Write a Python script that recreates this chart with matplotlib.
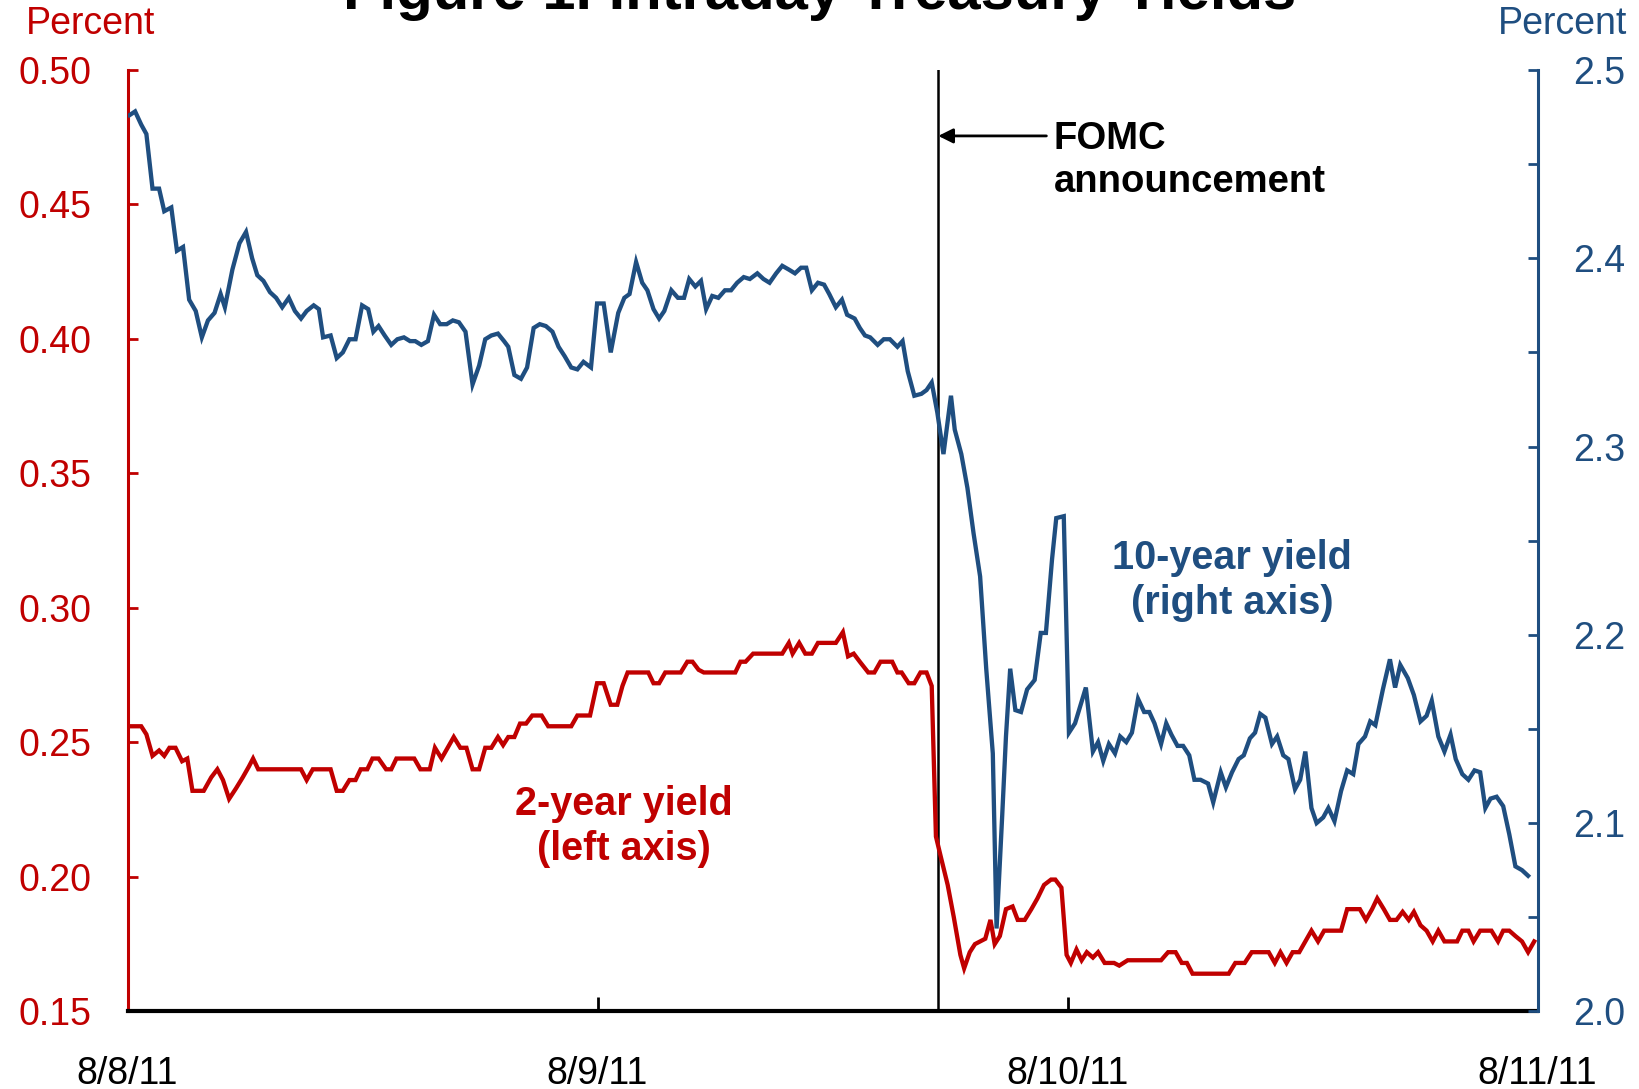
import numpy as np
import matplotlib.pyplot as plt

plt.rcParams['font.family'] = ['Liberation Sans', 'DejaVu Sans']

RED = '#C00000'
BLUE = '#1F4E80'

# --- data (x in days since 8/8/11 open of chart) ---
t_10y = [0.004, 0.016, 0.029, 0.040, 0.053, 0.067, 0.078, 0.093, 0.105, 0.118,
         0.131, 0.145, 0.158, 0.171, 0.185, 0.198, 0.207, 0.223, 0.238, 0.252,
         0.265, 0.276, 0.289, 0.303, 0.316, 0.329, 0.343, 0.356, 0.369, 0.381,
         0.396, 0.407, 0.416, 0.432, 0.445, 0.458, 0.472, 0.485, 0.499, 0.512,
         0.523, 0.534, 0.547, 0.561, 0.574, 0.588, 0.601, 0.612, 0.625, 0.639,
         0.652, 0.665, 0.679, 0.692, 0.705, 0.719, 0.734, 0.748, 0.761, 0.774,
         0.788, 0.801, 0.810, 0.823, 0.837, 0.850, 0.864, 0.877, 0.890, 0.904,
         0.917, 0.930, 0.944, 0.957, 0.970, 0.986, 0.999, 1.013, 1.028, 1.044,
         1.057, 1.068, 1.082, 1.095, 1.106, 1.119, 1.131, 1.142, 1.157, 1.171,
         1.184, 1.195, 1.208, 1.220, 1.231, 1.244, 1.257, 1.271, 1.284, 1.297,
         1.311, 1.324, 1.340, 1.353, 1.366, 1.380, 1.393, 1.407, 1.420, 1.433,
         1.444, 1.456, 1.469, 1.482, 1.493, 1.507, 1.520, 1.531, 1.547, 1.558,
         1.569, 1.580, 1.596, 1.609, 1.622, 1.638, 1.649, 1.660, 1.674, 1.689,
         1.700, 1.711, 1.723, 1.736, 1.752, 1.760, 1.774, 1.787, 1.800, 1.814,
         1.827, 1.841, 1.849, 1.861, 1.869, 1.878, 1.889, 1.901, 1.914, 1.930,
         1.943, 1.954, 1.967, 1.976, 1.992, 2.003, 2.016, 2.027, 2.039, 2.054,
         2.065, 2.076, 2.088, 2.101, 2.112, 2.125, 2.137, 2.150, 2.163, 2.174,
         2.185, 2.199, 2.210, 2.221, 2.234, 2.246, 2.259, 2.270, 2.283, 2.299,
         2.310, 2.326, 2.337, 2.350, 2.364, 2.375, 2.388, 2.399, 2.410, 2.421,
         2.435, 2.446, 2.459, 2.470, 2.484, 2.495, 2.506, 2.519, 2.530, 2.544,
         2.555, 2.568, 2.582, 2.595, 2.608, 2.619, 2.633, 2.644, 2.655, 2.671,
         2.686, 2.697, 2.708, 2.724, 2.737, 2.751, 2.764, 2.775, 2.789, 2.802,
         2.815, 2.826, 2.840, 2.853, 2.866, 2.878, 2.889, 2.900, 2.913, 2.927,
         2.940, 2.953, 2.967, 2.980]
y_10y = [2.476, 2.478, 2.471, 2.466, 2.437, 2.437, 2.425, 2.427, 2.404, 2.406,
         2.378, 2.372, 2.358, 2.367, 2.371, 2.381, 2.374, 2.394, 2.408, 2.414,
         2.400, 2.391, 2.388, 2.382, 2.379, 2.374, 2.379, 2.372, 2.368, 2.372,
         2.375, 2.373, 2.358, 2.359, 2.347, 2.350, 2.357, 2.357, 2.375, 2.373,
         2.361, 2.364, 2.359, 2.354, 2.357, 2.358, 2.356, 2.356, 2.354, 2.356,
         2.370, 2.365, 2.365, 2.367, 2.366, 2.361, 2.333, 2.343, 2.357, 2.359,
         2.360, 2.356, 2.353, 2.338, 2.336, 2.342, 2.363, 2.365, 2.364, 2.361,
         2.353, 2.348, 2.342, 2.341, 2.345, 2.342, 2.376, 2.376, 2.350, 2.371,
         2.379, 2.381, 2.398, 2.387, 2.383, 2.373, 2.368, 2.372, 2.383, 2.379,
         2.379, 2.389, 2.385, 2.388, 2.373, 2.380, 2.379, 2.383, 2.383, 2.387,
         2.390, 2.389, 2.392, 2.389, 2.387, 2.392, 2.396, 2.394, 2.392, 2.395,
         2.395, 2.383, 2.387, 2.386, 2.381, 2.374, 2.378, 2.370, 2.368, 2.363,
         2.359, 2.358, 2.354, 2.357, 2.357, 2.353, 2.356, 2.340, 2.327, 2.328,
         2.330, 2.334, 2.318, 2.296, 2.327, 2.309, 2.296, 2.278, 2.254, 2.231,
         2.182, 2.137, 2.044, 2.104, 2.146, 2.182, 2.160, 2.159, 2.171, 2.176,
         2.201, 2.201, 2.240, 2.262, 2.263, 2.148, 2.153, 2.162, 2.172, 2.138,
         2.143, 2.133, 2.142, 2.137, 2.146, 2.143, 2.148, 2.166, 2.159, 2.159,
         2.153, 2.142, 2.153, 2.147, 2.141, 2.141, 2.136, 2.123, 2.123, 2.121,
         2.111, 2.127, 2.119, 2.127, 2.134, 2.136, 2.145, 2.148, 2.158, 2.156,
         2.142, 2.146, 2.136, 2.134, 2.118, 2.123, 2.138, 2.108, 2.100, 2.103,
         2.108, 2.101, 2.117, 2.128, 2.126, 2.142, 2.146, 2.154, 2.152, 2.171,
         2.187, 2.172, 2.184, 2.177, 2.168, 2.154, 2.157, 2.165, 2.146, 2.138,
         2.147, 2.134, 2.126, 2.123, 2.128, 2.127, 2.108, 2.113, 2.114, 2.109,
         2.094, 2.077, 2.075, 2.072]

t_2y = [0.004, 0.029, 0.040, 0.053, 0.067, 0.078, 0.089, 0.102, 0.116, 0.127,
        0.138, 0.162, 0.178, 0.191, 0.203, 0.216, 0.231, 0.245, 0.258, 0.267,
        0.278, 0.369, 0.381, 0.394, 0.432, 0.445, 0.458, 0.472, 0.485, 0.496,
        0.510, 0.521, 0.534, 0.550, 0.561, 0.572, 0.610, 0.623, 0.643, 0.654,
        0.668, 0.681, 0.694, 0.708, 0.721, 0.734, 0.748, 0.761, 0.774, 0.788,
        0.799, 0.810, 0.823, 0.835, 0.848, 0.861, 0.881, 0.895, 0.944, 0.957,
        0.984, 0.999, 1.013, 1.028, 1.042, 1.053, 1.064, 1.108, 1.119, 1.131,
        1.144, 1.177, 1.191, 1.202, 1.215, 1.226, 1.293, 1.304, 1.315, 1.331,
        1.393, 1.407, 1.415, 1.429, 1.442, 1.456, 1.469, 1.507, 1.522, 1.533,
        1.545, 1.558, 1.576, 1.589, 1.602, 1.627, 1.638, 1.647, 1.662, 1.674,
        1.687, 1.700, 1.711, 1.720, 1.731, 1.745, 1.758, 1.772, 1.780, 1.792,
        1.803, 1.814, 1.825, 1.836, 1.845, 1.856, 1.869, 1.883, 1.894, 1.909,
        1.923, 1.936, 1.950, 1.965, 1.974, 1.987, 1.998, 2.007, 2.019, 2.030,
        2.041, 2.054, 2.065, 2.079, 2.099, 2.110, 2.128, 2.199, 2.214, 2.230,
        2.243, 2.254, 2.266, 2.343, 2.357, 2.377, 2.392, 2.428, 2.441, 2.453,
        2.466, 2.479, 2.493, 2.506, 2.519, 2.533, 2.546, 2.582, 2.595, 2.622,
        2.635, 2.648, 2.659, 2.673, 2.686, 2.700, 2.713, 2.726, 2.737, 2.751,
        2.764, 2.777, 2.789, 2.802, 2.829, 2.840, 2.853, 2.864, 2.878, 2.902,
        2.916, 2.927, 2.940, 2.953, 2.967, 2.980, 2.993]
y_2y = [0.256, 0.256, 0.253, 0.245, 0.247, 0.245, 0.248, 0.248, 0.243, 0.244,
        0.232, 0.232, 0.237, 0.240, 0.236, 0.229, 0.233, 0.237, 0.241, 0.244,
        0.240, 0.240, 0.236, 0.240, 0.240, 0.232, 0.232, 0.236, 0.236, 0.240,
        0.240, 0.244, 0.244, 0.240, 0.240, 0.244, 0.244, 0.240, 0.240, 0.248,
        0.244, 0.248, 0.252, 0.248, 0.248, 0.240, 0.240, 0.248, 0.248, 0.252,
        0.249, 0.252, 0.252, 0.257, 0.257, 0.260, 0.260, 0.256, 0.256, 0.260,
        0.260, 0.272, 0.272, 0.264, 0.264, 0.271, 0.276, 0.276, 0.272, 0.272,
        0.276, 0.276, 0.280, 0.280, 0.277, 0.276, 0.276, 0.280, 0.280, 0.283,
        0.283, 0.287, 0.283, 0.287, 0.283, 0.283, 0.287, 0.287, 0.291, 0.282,
        0.283, 0.280, 0.276, 0.276, 0.280, 0.280, 0.276, 0.276, 0.272, 0.272,
        0.276, 0.276, 0.271, 0.215, 0.207, 0.197, 0.185, 0.171, 0.166, 0.172,
        0.175, 0.176, 0.177, 0.184, 0.175, 0.178, 0.188, 0.189, 0.184, 0.184,
        0.188, 0.192, 0.197, 0.199, 0.199, 0.196, 0.171, 0.168, 0.173, 0.169,
        0.172, 0.170, 0.172, 0.168, 0.168, 0.167, 0.169, 0.169, 0.172, 0.172,
        0.168, 0.168, 0.164, 0.164, 0.168, 0.168, 0.172, 0.172, 0.168, 0.172,
        0.168, 0.172, 0.172, 0.176, 0.180, 0.176, 0.180, 0.180, 0.188, 0.188,
        0.184, 0.188, 0.192, 0.188, 0.184, 0.184, 0.187, 0.184, 0.187, 0.182,
        0.180, 0.176, 0.180, 0.176, 0.176, 0.180, 0.180, 0.176, 0.180, 0.180,
        0.176, 0.180, 0.180, 0.178, 0.176, 0.172, 0.176]

fomc_t = 1.725
day_ticks = [0, 1, 2, 3]
day_labels = ['8/8/11', '8/9/11', '8/10/11', '8/11/11']
left_ticks = [0.15, 0.20, 0.25, 0.30, 0.35, 0.40, 0.45, 0.50]
right_major = [2.0, 2.1, 2.2, 2.3, 2.4, 2.5]
right_minor = [2.05, 2.15, 2.25, 2.35, 2.45]

# --- figure ---
fig = plt.figure(figsize=(16.4, 10.89), dpi=100)
ax = fig.add_axes([0.0778, 0.0713, 0.8597, 0.8644])
ax2 = ax.twinx()

ax.plot(t_2y, y_2y, color=RED, lw=3.1, solid_joinstyle='miter', zorder=3)
ax2.plot(t_10y, y_10y, color=BLUE, lw=3.1, solid_joinstyle='miter', zorder=3)
ax.axvline(fomc_t, color='black', lw=1.8, zorder=2)

ax.set_xlim(0, 3)
ax.set_ylim(0.15, 0.50)
ax2.set_ylim(2.0, 2.5)

# spines
ax.spines['top'].set_visible(False)
ax2.spines['top'].set_visible(False)
ax.spines['right'].set_visible(False)
ax2.spines['left'].set_visible(False)
ax2.spines['bottom'].set_visible(False)
ax.spines['left'].set_color(RED)
ax.spines['left'].set_linewidth(2.2)
ax2.spines['right'].set_color(BLUE)
ax2.spines['right'].set_linewidth(2.2)
ax.spines['bottom'].set_color('black')
ax.spines['bottom'].set_linewidth(3.0)
ax.spines['bottom'].set_zorder(5)

ax.set_yticks(left_ticks)
ax.set_yticklabels(['%.2f' % v for v in left_ticks])
ax.tick_params(axis='y', direction='in', length=7, width=2, colors=RED,
               labelsize=27, pad=26)

ax2.set_yticks(right_major)
ax2.set_yticklabels(['%.1f' % v for v in right_major])
ax2.set_yticks(right_minor, minor=True)
ax2.tick_params(axis='y', which='both', direction='in', length=7, width=2,
                colors=BLUE, labelsize=27, pad=26)

ax.set_xticks(day_ticks)
ax.set_xticklabels(day_labels)
ax.tick_params(axis='x', direction='in', length=10, width=2, colors='black',
               labelsize=27, pad=32)

# labels
fig.text(0.055, 0.978, 'Percent', color=RED, fontsize=27, ha='center', va='center')
fig.text(0.953, 0.978, 'Percent', color=BLUE, fontsize=27, ha='center', va='center')
fig.text(0.5, 1 - 9 / 1089, 'Figure 1. Intraday Treasury Yields', fontsize=43,
         fontweight='bold', ha='center', va='baseline')

ax.annotate('', xy=(fomc_t, 0.4755), xytext=(1.955, 0.4755),
            arrowprops=dict(arrowstyle='-|>', color='black', lw=2,
                            mutation_scale=22, shrinkA=0, shrinkB=0))
ax.text(1.97, 0.4665, 'FOMC\nannouncement', fontsize=27.5, fontweight='bold',
        ha='left', va='center', linespacing=1.25, color='black')
ax.text(2.35, 0.3102, '10-year yield\n(right axis)', fontsize=28.5, fontweight='bold',
        color=BLUE, ha='center', va='center', linespacing=1.25)
ax.text(1.057, 0.2188, '2-year yield\n(left axis)', fontsize=28.5, fontweight='bold',
        color=RED, ha='center', va='center', linespacing=1.25)

fig.savefig('out.png', dpi=100)
